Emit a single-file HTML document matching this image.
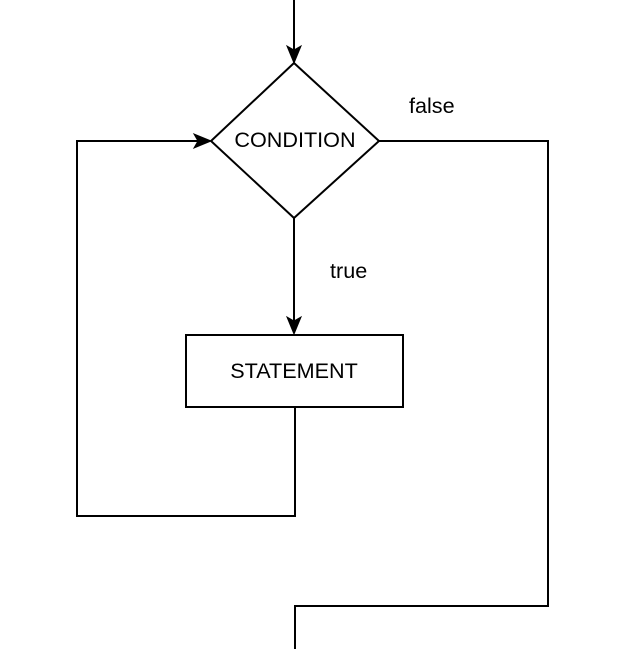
<!DOCTYPE html>
<html><head><style>
html,body{margin:0;padding:0;background:#fff;}
svg{display:block;}
text{font-family:"Liberation Sans",Arial,sans-serif;font-size:21.6px;fill:#000;}
</style></head><body>
<svg width="632" height="649" viewBox="0 0 632 649" xmlns="http://www.w3.org/2000/svg">
<g fill="none" stroke="#000" stroke-width="2">
<line x1="294" y1="0" x2="294" y2="52"/>
<polygon points="294,63 379,141 294,218 211,141" fill="#fff"/>
<line x1="294" y1="218" x2="294" y2="322"/>
<rect x="186" y="335" width="217" height="72" fill="#fff"/>
<polyline points="295,407 295,516 77,516 77,141 200,141"/>
<polyline points="379,141 548,141 548,606 295,606 295,649"/>
</g>
<g fill="#000" stroke="#000" stroke-width="1">
<polygon points="294,63 287,46 294,50 301,46"/>
<polygon points="294,334 287,317 294,321 301,317"/>
<polygon points="211,141 194,134 198,141 194,148"/>
</g>
<text x="295" y="147" text-anchor="middle">CONDITION</text>
<text x="294" y="378" text-anchor="middle">STATEMENT</text>
<text x="409" y="113">false</text>
<text x="330" y="278">true</text>
</svg>
</body></html>
